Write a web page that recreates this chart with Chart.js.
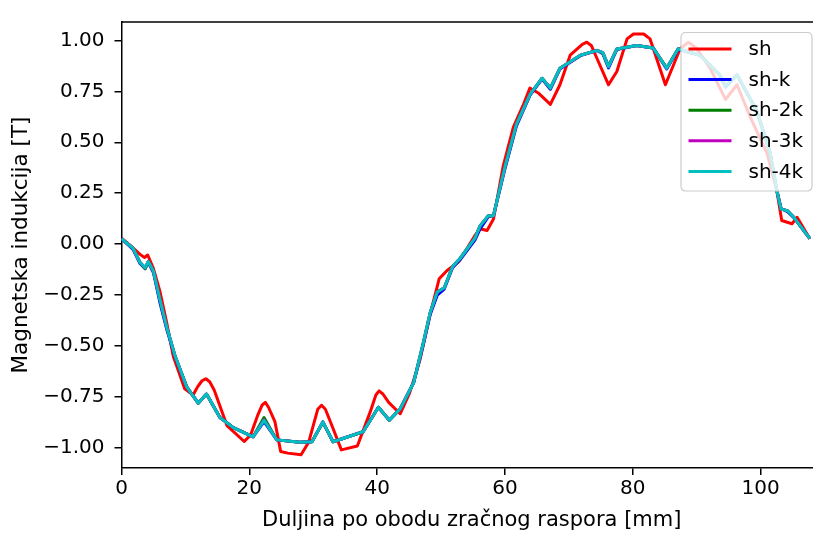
<!DOCTYPE html>
<html>
<head>
<meta charset="utf-8">
<script src="https://cdn.jsdelivr.net/npm/chart.js@4.4.1/dist/chart.umd.min.js"></script>
<style>
  html, body { margin: 0; padding: 0; background: #fff; overflow: hidden; }
  /* the figure is a little wider than the window, its right edge is cut off like in the original */
  #wrap { width: 824px; height: 533px; }
</style>
</head>
<body>
<div id="wrap"><canvas id="bChart" width="824" height="533"></canvas></div>
<script>
// sh (no skew)
const shX = [0, 1.5, 2.9, 3.6, 4.1, 5.0, 6.0, 7.1, 8.1, 9.9, 11.2, 11.9, 12.6, 13.2, 13.8, 14.5, 16.5, 19.2, 20.2, 21.3, 22.0, 22.5, 23.0, 24.0, 24.9, 26.0, 28.1, 29.3, 30.7, 31.3, 31.9, 32.9, 34.4, 36.9, 38.9, 39.8, 40.3, 40.9, 41.8, 43.6, 45.1, 46.7, 48.3, 49.7, 50.9, 52.8, 55.3, 56.1, 57.2, 58.2, 59.7, 61.3, 62.9, 63.9, 65.2, 67.1, 68.6, 70.2, 72.1, 72.8, 73.5, 74.4, 76.2, 77.5, 79.1, 80.1, 81.7, 82.7, 85.1, 87.4, 88.7, 90.0, 92.1, 94.5, 96.3, 98.4, 101.0, 102.5, 103.3, 104.9, 105.7, 107.7];
const shY = [0.03, -0.01, -0.05, -0.065, -0.053, -0.12, -0.23, -0.39, -0.55, -0.71, -0.74, -0.70, -0.67, -0.66, -0.675, -0.715, -0.89, -0.968, -0.936, -0.84, -0.79, -0.776, -0.80, -0.87, -1.017, -1.025, -1.033, -0.97, -0.81, -0.79, -0.81, -0.888, -1.009, -0.99, -0.824, -0.74, -0.72, -0.735, -0.776, -0.832, -0.728, -0.567, -0.342, -0.17, -0.13, -0.085, 0.043, 0.076, 0.067, 0.124, 0.38, 0.573, 0.686, 0.766, 0.742, 0.686, 0.782, 0.927, 0.98, 0.991, 0.975, 0.911, 0.782, 0.847, 1.007, 1.031, 1.031, 1.007, 0.782, 0.959, 0.991, 0.96, 0.863, 0.71, 0.782, 0.622, 0.445, 0.268, 0.116, 0.10, 0.132, 0.027];

// skewed variants share the same sampling positions
const skX = [0, 1.8, 2.9, 3.7, 4.2, 5.0, 6.0, 7.1, 8.4, 10.2, 12.0, 13.3, 15.4, 17.5, 20.6, 22.3, 24.3, 27.9, 29.8, 31.5, 33.1, 37.8, 40.2, 41.9, 43.6, 45.7, 46.2, 47.2, 48.3, 49.4, 50.5, 51.8, 53.0, 55.3, 56.1, 57.4, 58.2, 60.0, 61.8, 63.9, 65.8, 67.1, 68.6, 71.8, 74.4, 75.3, 76.2, 77.5, 80.6, 83.2, 85.3, 87.1, 90.5, 93.6, 94.5, 96.3, 99.4, 101.5, 102.5, 103.2, 104.2, 105.2, 107.7];
const shkY  = [0.027, -0.025, -0.095, -0.12, -0.09, -0.14, -0.285, -0.42, -0.555, -0.70, -0.78, -0.735, -0.85, -0.90, -0.945, -0.87, -0.96, -0.972, -0.969, -0.872, -0.969, -0.92, -0.80, -0.864, -0.808, -0.68, -0.62, -0.495, -0.345, -0.25, -0.22, -0.115, -0.075, 0.02, 0.075, 0.135, 0.14, 0.37, 0.58, 0.73, 0.81, 0.76, 0.86, 0.925, 0.95, 0.935, 0.865, 0.955, 0.975, 0.962, 0.86, 0.955, 0.927, 0.83, 0.77, 0.83, 0.654, 0.445, 0.268, 0.175, 0.16, 0.13, 0.027];
const sh2kY = [0.027, -0.02, -0.09, -0.12, -0.085, -0.135, -0.27, -0.41, -0.55, -0.70, -0.78, -0.735, -0.85, -0.90, -0.945, -0.85, -0.96, -0.972, -0.969, -0.875, -0.969, -0.92, -0.80, -0.864, -0.808, -0.68, -0.615, -0.487, -0.335, -0.235, -0.214, -0.11, -0.069, 0.03, 0.09, 0.14, 0.14, 0.38, 0.589, 0.734, 0.814, 0.766, 0.863, 0.927, 0.951, 0.94, 0.875, 0.958, 0.975, 0.962, 0.865, 0.959, 0.927, 0.83, 0.774, 0.83, 0.654, 0.445, 0.268, 0.172, 0.164, 0.132, 0.027];
const sh3kY = [0.027, -0.02, -0.09, -0.115, -0.085, -0.133, -0.27, -0.41, -0.55, -0.70, -0.78, -0.735, -0.85, -0.90, -0.945, -0.862, -0.96, -0.972, -0.969, -0.872, -0.969, -0.92, -0.80, -0.864, -0.808, -0.68, -0.615, -0.487, -0.335, -0.235, -0.214, -0.11, -0.069, 0.03, 0.09, 0.14, 0.14, 0.38, 0.589, 0.734, 0.814, 0.766, 0.863, 0.927, 0.951, 0.94, 0.871, 0.958, 0.975, 0.962, 0.863, 0.959, 0.927, 0.83, 0.774, 0.83, 0.654, 0.445, 0.268, 0.172, 0.164, 0.132, 0.027];
const sh4kY = [0.027, -0.02, -0.09, -0.115, -0.085, -0.133, -0.27, -0.41, -0.55, -0.70, -0.78, -0.735, -0.85, -0.90, -0.945, -0.864, -0.96, -0.972, -0.969, -0.872, -0.969, -0.92, -0.80, -0.864, -0.808, -0.68, -0.615, -0.487, -0.335, -0.235, -0.214, -0.11, -0.069, 0.03, 0.09, 0.14, 0.14, 0.38, 0.589, 0.734, 0.814, 0.766, 0.863, 0.927, 0.951, 0.94, 0.871, 0.958, 0.975, 0.962, 0.863, 0.959, 0.927, 0.83, 0.774, 0.83, 0.654, 0.445, 0.268, 0.172, 0.164, 0.132, 0.027];

const seriesNames = ['sh', 'sh-k', 'sh-2k', 'sh-3k', 'sh-4k'];
const seriesColors = ['#ff0000', '#0000ff', '#008000', '#bf00bf', '#00bfbf'];
const xTicks = [0, 20, 40, 60, 80, 100];
const yTicks = [-1, -0.75, -0.5, -0.25, 0, 0.25, 0.5, 0.75, 1];

const FONT = 'DejaVu Sans';

function pts(xs, ys) {
    return xs.map((x, i) => ({ x: x, y: ys[i] }));
}

const allY = [shY, shkY, sh2kY, sh3kY, sh4kY];
const datasets = seriesNames.map((name, i) => ({
    label: name,
    data: pts(i === 0 ? shX : skX, allY[i]),
    borderColor: seriesColors[i],
    backgroundColor: seriesColors[i],
    borderWidth: 3,
    borderJoinStyle: 'round',
    pointRadius: 0,
    tension: 0,
    order: seriesNames.length - i   // cyan on top, red at the bottom
}));

// top/right spines + matplotlib style legend box
const framePlugin = {
    id: 'frame',
    afterDatasetsDraw(chart) {
        const c = chart.ctx;
        const a = chart.chartArea;
        c.save();
        c.strokeStyle = '#000';
        c.lineWidth = 1.5;
        c.beginPath();
        c.moveTo(a.left, a.top);
        c.lineTo(a.right, a.top);
        c.lineTo(a.right, a.bottom);
        c.stroke();

        // legend, upper right
        const bw = 131, bh = 158.5, r = 5;
        const bx = a.right - 10 - bw, by = a.top + 10.5;
        c.beginPath();
        c.moveTo(bx + r, by);
        c.lineTo(bx + bw - r, by);
        c.quadraticCurveTo(bx + bw, by, bx + bw, by + r);
        c.lineTo(bx + bw, by + bh - r);
        c.quadraticCurveTo(bx + bw, by + bh, bx + bw - r, by + bh);
        c.lineTo(bx + r, by + bh);
        c.quadraticCurveTo(bx, by + bh, bx, by + bh - r);
        c.lineTo(bx, by + r);
        c.quadraticCurveTo(bx, by, bx + r, by);
        c.closePath();
        c.fillStyle = 'rgba(255,255,255,0.8)';
        c.fill();
        c.strokeStyle = '#cccccc';
        c.lineWidth = 1.2;
        c.stroke();

        c.font = '20px "' + FONT + '"';
        c.textBaseline = 'middle';
        c.textAlign = 'left';
        seriesNames.forEach((name, i) => {
            const y = by + 16.5 + i * 30.6;
            c.strokeStyle = seriesColors[i];
            c.lineWidth = 3;
            c.beginPath();
            c.moveTo(bx + 7.5, y);
            c.lineTo(bx + 50.5, y);
            c.stroke();
            c.fillStyle = '#000';
            c.fillText(name, bx + 67.5, y + 1);
        });
        c.restore();
    }
};

const ctx = document.getElementById('bChart').getContext('2d');
const bChart = new Chart(ctx, {
    type: 'line',
    data: { datasets: datasets },
    options: {
        responsive: false,
        animation: false,
        layout: { padding: { top: 11, right: 2, left: 0, bottom: 0 } },
        plugins: {
            legend: { display: false },
            tooltip: { enabled: false }
        },
        scales: {
            x: {
                type: 'linear',
                min: 0,
                max: 109.6,
                afterFit: (s) => { s.height = 65; },
                afterBuildTicks: (s) => { s.ticks = xTicks.map(v => ({ value: v })); },
                grid: { drawOnChartArea: false, drawTicks: true, tickLength: 7, color: '#000', lineWidth: 1.5 },
                border: { display: true, color: '#000', width: 1.5 },
                ticks: {
                    color: '#000',
                    padding: 2,
                    maxRotation: 0,
                    font: { family: FONT, size: 20 },
                    callback: (v) => String(v)
                },
                title: {
                    display: true,
                    text: 'Duljina po obodu zračnog raspora [mm]',
                    color: '#000',
                    font: { family: FONT, size: 21 },
                    padding: { top: 0, bottom: 0 }
                }
            },
            y: {
                type: 'linear',
                min: -1.098,
                max: 1.09,
                afterFit: (s) => { s.width = 121.5; },
                afterBuildTicks: (s) => { s.ticks = yTicks.map(v => ({ value: v })); },
                grid: { drawOnChartArea: false, drawTicks: true, tickLength: 7, color: '#000', lineWidth: 1.5 },
                border: { display: true, color: '#000', width: 1.5 },
                ticks: {
                    color: '#000',
                    padding: 10,
                    font: { family: FONT, size: 20 },
                    callback: (v) => (v < 0 ? '\u2212' : '') + Math.abs(v).toFixed(2)
                },
                title: {
                    display: true,
                    text: 'Magnetska indukcija [T]',
                    color: '#000',
                    font: { family: FONT, size: 21.5 },
                    padding: { top: 9, bottom: 0 }
                }
            }
        }
    },
    plugins: [framePlugin]
});
</script>
</body>
</html>
